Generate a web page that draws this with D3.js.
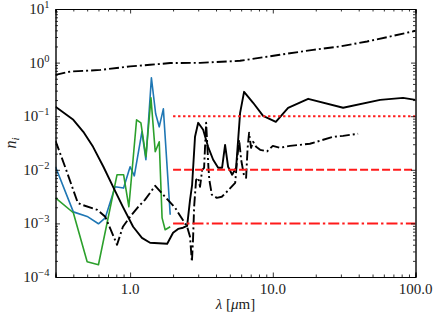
<!DOCTYPE html>
<html><head><meta charset="utf-8">
<script src="https://cdn.jsdelivr.net/npm/d3@7"></script>
<style>body{margin:0;background:#fff} text{font-family:"Liberation Serif",serif}</style>
</head><body>
<svg id="c" width="436" height="320"></svg>
<script>
// ---- data ----
const xDomain = [0.3, 100];
const yDomain = [1e-4, 10];
const xTicks = [1, 10, 100];
const xTickLabels = ["1.0", "10.0", "100.0"];
const yTicks = [1e-4, 1e-3, 1e-2, 1e-1, 1, 10];
const yTickExponents = ["−4", "−3", "−2", "−1", "0", "1"];

// upper dash-dot black
const upperX = [0.3, 0.38, 0.62, 1.0, 1.38, 1.91, 3.1, 5.9, 11.2, 19.2, 29.6, 45.8, 69.7, 100];
const upperY = [0.59, 0.68, 0.73, 0.85, 0.91, 0.98, 0.99, 1.08, 1.40, 1.73, 2.0, 2.48, 3.16, 3.92];

// solid black
const solidX = [0.3, 0.40, 0.47, 0.55, 0.65, 0.76, 0.89, 1.05, 1.21, 1.38, 1.82, 2.0, 2.17, 2.35, 2.51, 2.63, 2.72, 2.85, 3.0, 3.25, 3.52, 3.82, 4.14, 4.41, 4.63, 4.86, 5.19, 5.53, 5.90, 6.29, 7.28, 8.55, 10.5, 12.8, 17.7, 31.1, 56.5, 81.8, 100];
const solidY = [0.150, 0.0857, 0.0512, 0.0268, 0.0114, 0.00482, 0.00204, 0.000865, 0.000538, 0.000435, 0.000416, 0.000668, 0.00079, 0.00083, 0.0009, 0.00275, 0.00525, 0.0413, 0.0753, 0.0557, 0.0268, 0.0154, 0.0109, 0.0109, 0.0292, 0.0114, 0.0081, 0.0109, 0.1156, 0.285, 0.178, 0.1016, 0.0787, 0.1435, 0.211, 0.1435, 0.202, 0.22, 0.202];

// lower dash-dot black
const lowerX = [0.3, 0.35, 0.43, 0.46, 0.59, 0.67, 0.81, 0.89, 1.0, 1.14, 1.27, 1.50, 1.76, 2.07, 2.24, 2.51, 2.63, 2.71, 2.76, 2.81, 2.90, 3.0, 3.09, 3.20, 3.30, 3.41, 3.54, 3.59, 3.74, 4.05, 4.39, 4.76, 5.45, 5.62, 5.81, 6.0, 6.29, 6.50, 6.66, 6.82, 7.04, 7.28, 7.64, 8.15, 9.12, 10.0, 11.2, 13.2, 15.5, 18.2, 26.5, 31.1, 39.6];
const lowerY = [0.0348, 0.0114, 0.00242, 0.00222, 0.00179, 0.00133, 0.000399, 0.000865, 0.00133, 0.00204, 0.00275, 0.00503, 0.00313, 0.00195, 0.00139, 0.000865, 0.000562, 0.000192, 0.000494, 0.00204, 0.0065, 0.0071, 0.00482, 0.010, 0.0109, 0.0753, 0.0109, 0.0065, 0.00342, 0.0030, 0.00314, 0.00389, 0.00572, 0.0154, 0.0363, 0.0154, 0.0077, 0.0071, 0.0257, 0.049, 0.0257, 0.0333, 0.0268, 0.0236, 0.022, 0.028, 0.0257, 0.028, 0.0292, 0.0306, 0.0413, 0.043, 0.047];

// blue
const blueX = [0.30, 0.40, 0.50, 0.60, 0.67, 0.785, 0.90, 1.0, 1.07, 1.21, 1.29, 1.41, 1.51, 1.60, 1.71, 1.91];
const blueY = [0.0114, 0.00164, 0.00135, 0.000984, 0.00127, 0.00482, 0.00456, 0.0114, 0.0077, 0.0512, 0.0154, 0.52, 0.111, 0.0634, 0.137, 0.00145];

// green
const greenX = [0.30, 0.40, 0.50, 0.60, 0.81, 0.90, 0.98, 1.11, 1.19, 1.29, 1.40, 1.50, 1.60, 1.675, 1.76, 1.91];
const greenY = [0.003, 0.00158, 0.000192, 0.000169, 0.0081, 0.0081, 0.00204, 0.0857, 0.0753, 0.0175, 0.22, 0.0217, 0.0333, 0.00127, 0.00076, 0.000865];

// red reference lines
const refX = [2.0, 100];
const refLevels = [0.1, 0.01, 0.001];

// ---- drawing ----
const svg = d3.select("#c");
const L = 55.5, R = 415.5, T = 9, B = 277;
const x = d3.scaleLog().domain(xDomain).range([L, R]);
const y = d3.scaleLog().domain(yDomain).range([B, T]);

svg.append("defs").append("clipPath").attr("id", "clip")
  .append("rect").attr("x", L).attr("y", T).attr("width", R - L).attr("height", B - T);
const g = svg.append("g").attr("clip-path", "url(#clip)");

const line = d3.line().x(d => x(d[0])).y(d => y(d[1]));
function draw(xs, ys, color, width, dash) {
  g.append("path").datum(xs.map((v, i) => [v, ys[i]]))
    .attr("d", line).attr("fill", "none").attr("stroke", color)
    .attr("stroke-width", width).attr("stroke-linejoin", "round")
    .attr("stroke-dasharray", dash || null);
}
draw(blueX, blueY, "#1f77b4", 1.6);
draw(greenX, greenY, "#2ca02c", 1.6);
draw(solidX, solidY, "#000", 1.9);
draw(lowerX, lowerY, "#000", 1.9, "10,3,2,3");
draw(upperX, upperY, "#000", 1.9, "10,3,2,3");
const redDash = ["2.4,2.6", "8,3", "11,3,2.4,3"];
refLevels.forEach((lv, i) => draw(refX, [lv, lv], "#ff1a1a", 2, redDash[i]));

// minor tick values
const minorX = [], minorY = [];
[0.1, 1, 10].forEach(d => { for (let k = 2; k <= 9; k++) { const v = d * k; if (v > 0.3 && v < 100) minorX.push(v); } });
[1e-4, 1e-3, 1e-2, 1e-1, 1].forEach(d => { for (let k = 2; k <= 9; k++) minorY.push(d * k); });

function axis(gen, tr, vals, size) {
  const a = svg.append("g").attr("transform", tr)
    .call(gen.tickValues(vals).tickSize(size).tickFormat(""));
  a.select(".domain").attr("stroke", "#000").attr("stroke-width", 0.9);
  a.selectAll(".tick line").attr("stroke", "#000").attr("stroke-width", 0.8);
  return a;
}
axis(d3.axisBottom(x), `translate(0,${B})`, xTicks, -4.5);
axis(d3.axisBottom(x), `translate(0,${B})`, minorX, -2.5);
axis(d3.axisTop(x), `translate(0,${T})`, xTicks, -4.5);
axis(d3.axisTop(x), `translate(0,${T})`, minorX, -2.5);
axis(d3.axisLeft(y), `translate(${L},0)`, yTicks, -4.5);
axis(d3.axisLeft(y), `translate(${L},0)`, minorY, -2.5);
axis(d3.axisRight(y), `translate(${R},0)`, yTicks, -4.5);
axis(d3.axisRight(y), `translate(${R},0)`, minorY, -2.5);

// x tick labels
xTicks.forEach((v, i) => {
  svg.append("text").attr("x", x(v)).attr("y", B + 17)
    .attr("text-anchor", "middle").attr("font-size", 15)
    .attr("fill", "#222").text(xTickLabels[i]);
});
// y tick labels
yTicks.forEach((v, i) => {
  const t = svg.append("text").attr("x", L - 6).attr("y", y(v) + 5)
    .attr("text-anchor", "end").attr("font-size", 15).attr("fill", "#222");
  t.append("tspan").text("10");
  t.append("tspan").attr("font-size", 10.5).attr("dy", -6).text(yTickExponents[i]);
});
// axis labels
const xl = svg.append("text").attr("x", (L + R) / 2).attr("y", B + 32)
  .attr("text-anchor", "middle").attr("font-size", 15).attr("fill", "#222");
xl.append("tspan").attr("font-style", "italic").text("λ");
xl.append("tspan").text(" [");
xl.append("tspan").attr("font-style", "italic").text("μ");
xl.append("tspan").text("m]");
const yl = svg.append("text").attr("transform", `translate(16,${(T + B) / 2}) rotate(-90)`)
  .attr("text-anchor", "middle").attr("font-size", 16).attr("fill", "#222");
yl.append("tspan").attr("font-style", "italic").text("n");
yl.append("tspan").attr("font-style", "italic").attr("font-size", 11).attr("dy", 3).text("i");
</script>
</body></html>
